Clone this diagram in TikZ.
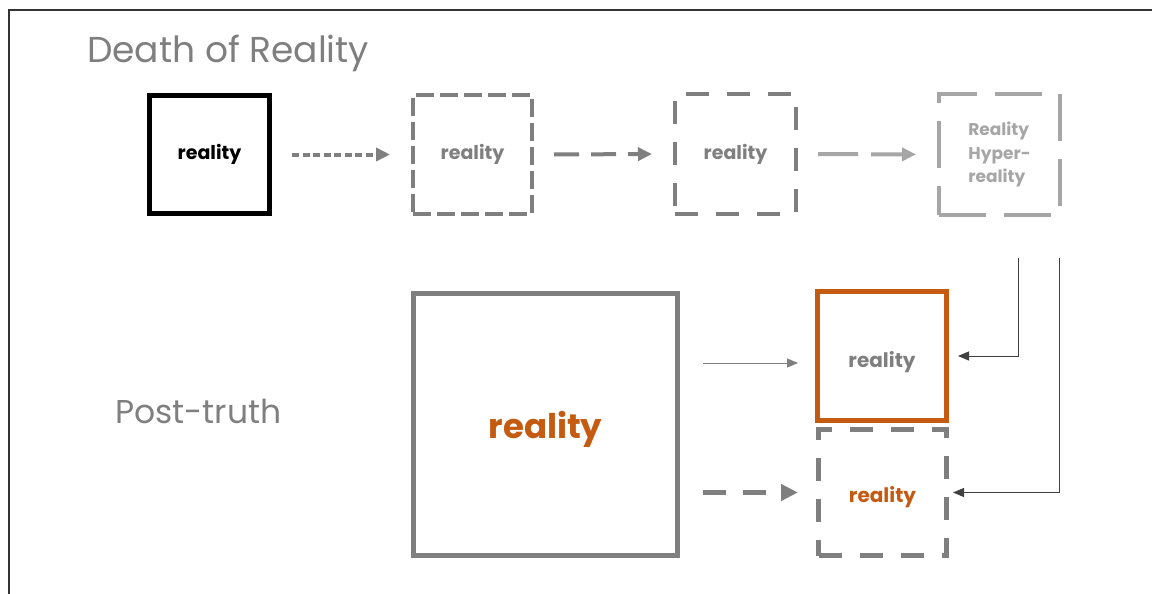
\documentclass[tikz,border=0pt]{standalone}
\usepackage{fontspec}
\setmainfont{Poppins}
\usetikzlibrary{arrows.meta}
\definecolor{g1}{HTML}{7F7F7F}
\definecolor{g2}{HTML}{A6A6A6}
\definecolor{org}{HTML}{C55A11}
\definecolor{dk}{HTML}{404040}
\newcommand{\lowertext}[2]{\raisebox{0pt}[\dimexpr\height+#1\relax][\depth]{#2}}
\begin{document}
\begin{tikzpicture}[x=1pt,y=-1pt,
  box/.style={rectangle, inner sep=0pt, font=\fontsize{19}{22}\selectfont\bfseries},
  title/.style={anchor=base west, inner sep=0pt, text=g1, font=\fontsize{36}{42}\selectfont},
  thickarr/.style={line width=4pt, -{Triangle[length=14pt,width=13pt]}, shorten <=20pt, shorten >=21pt},
  thinarr/.style={line width=1pt, -{Triangle[length=11pt,width=9pt]}}
]
\useasboundingbox (0,0) rectangle (1152,594);
% frame
\draw[line width=2pt, black!80] (9,594) -- (9,10) -- (1152,10);
% titles
\node[title] (t1) at (87,63) {Death of Reality};
\node[title, font=\fontsize{33}{40}\selectfont] (t2) at (115,423) {Post-truth};
% top row
\node[box, draw=black, line width=5pt, minimum width=120pt, minimum height=118pt, text=black] (b1) at (209.5,154.5) {reality};
\node[box, draw=g1, line width=4pt, dash pattern=on 18pt off 6pt, minimum width=119pt, minimum height=119pt, text=g1] (b2) at (472.5,154.5) {reality};
\node[box, draw=g1, line width=4pt, dash pattern=on 23pt off 18pt, minimum width=121pt, minimum height=120pt, text=g1] (b3) at (735.5,154) {reality};
\node[box, draw=g2, line width=4pt, dash pattern=on 47pt off 18pt, minimum width=121pt, minimum height=121pt, text=g2, align=left, font=\fontsize{17}{23.5}\selectfont\bfseries] (b4) at (999.5,154.5) {Reality\\Hyper-\\reality};
% top arrows
\draw[thickarr, g1, dash pattern=on 7pt off 3.5pt] (b1.east) -- (b2.west);
\draw[thickarr, g1, dash pattern=on 25pt off 12pt] (b2.east) -- (b3.west);
\draw[thickarr, g2, dash pattern=on 40pt off 13pt] (b3.east) -- (b4.west);
% bottom
\node[box, draw=g1, line width=5pt, minimum width=264pt, minimum height=262pt, text=org, font=\fontsize{34}{40}\selectfont\bfseries] (big) at (545.5,424.5) {\lowertext{9pt}{reality}};
\node[box, draw=org, line width=5pt, minimum width=129pt, minimum height=129pt, text=g1, font=\fontsize{20}{24}\selectfont\bfseries] (ob) at (882,356) {\lowertext{12pt}{reality}};
\node[box, draw=g1, line width=5pt, dash pattern=on 23pt off 18pt, minimum width=128pt, minimum height=126pt, text=org, font=\fontsize{20}{24}\selectfont\bfseries] (pb) at (882.5,492.5) {\lowertext{10pt}{reality}};
% bottom arrows
\path (ob.west) ++(0,7) coordinate (ow);
\draw[thinarr, g1, shorten <=23pt, shorten >=17pt] (big.east |- ow) -- (ow);
\draw[g1, line width=5pt, dash pattern=on 23pt off 17pt, -{Triangle[length=17pt,width=16pt]}, shorten <=23pt, shorten >=18pt] (big.east |- pb.west) -- (pb.west);
% elbow connectors
\coordinate (c1) at (1018.5,258);
\coordinate (c2) at (1059.5,258);
\draw[thinarr, dk, shorten >=9pt] (c1) |- (ob.east);
\draw[thinarr, dk, shorten >=4pt] (c2) |- (pb.east);
\end{tikzpicture}
\end{document}
